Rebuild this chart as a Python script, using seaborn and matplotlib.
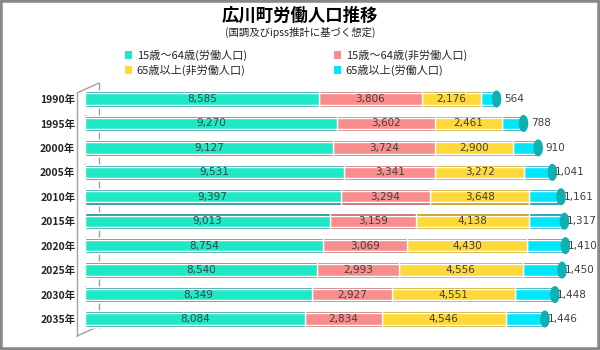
"""
広川町労働人口推移 - stacked horizontal bar chart.
"""

import matplotlib

matplotlib.use("Agg")
import matplotlib.pyplot as plt
import pandas as pd
import seaborn as sns
from matplotlib.lines import Line2D
from matplotlib.patches import Ellipse, Patch, Rectangle

years = ["1990年", "1995年", "2000年", "2005年", "2010年",
         "2015年", "2020年", "2025年", "2030年", "2035年"]
work_15_64 = [8585, 9270, 9127, 9531, 9397, 9013, 8754, 8540, 8349, 8084]
nonwork_15_64 = [3806, 3602, 3724, 3341, 3294, 3159, 3069, 2993, 2927, 2834]
nonwork_65 = [2176, 2461, 2900, 3272, 3648, 4138, 4430, 4556, 4551, 4546]
work_65 = [564, 788, 910, 1041, 1161, 1317, 1410, 1450, 1448, 1446]

labels = ["15歳～64歳(労働人口)", "15歳～64歳(非労働人口)",
          "65歳以上(非労働人口)", "65歳以上(労働人口)"]
main_colors = ["#1ee9c4", "#f98c8c", "#ffd83a", "#00e6fb"]
edge_colors = ["#128a98", "#c06060", "#c49a00", "#0096b4"]

W, H = 600, 350


def fx(px):
    return px / W


def fy(py):
    return 1 - py / H


sns.set_theme(style="white")
plt.rcParams["font.family"] = ["Noto Sans CJK JP", "DejaVu Sans"]

df = pd.DataFrame({
    "year": years,
    "s1": work_15_64,
    "s2": nonwork_15_64,
    "s3": nonwork_65,
    "s4": work_65,
})
cols = ["s1", "s2", "s3", "s4"]
cum = df[cols].cumsum(axis=1)

fig = plt.figure(figsize=(6, 3.5), dpi=100)
ax = fig.add_axes([fx(85), fy(331.2), fx(590) - fx(85), fy(86.8) - fy(331.2)])

scale = 0.0272  # px per person
ax.set_xlim(0, (590 - 85) / scale)

# left rounded ends
for i in range(len(years)):
    ax.add_patch(Ellipse((0, i), 260, 0.62, color=edge_colors[0], zorder=0.5))
    ax.add_patch(Ellipse((0, i), 220, 0.46, color=main_colors[0], zorder=0.6))

# stacked bars: draw cumulative totals from the top layer down
for k in range(3, -1, -1):
    sns.barplot(x=cum[cols[k]], y=df["year"], order=years, orient="h",
                color=edge_colors[k], width=0.64, saturation=1, ax=ax)
    sns.barplot(x=cum[cols[k]], y=df["year"], order=years, orient="h",
                color=main_colors[k], width=0.46, saturation=1, ax=ax)

# right caps
for i, tot in enumerate(cum["s4"]):
    ax.add_patch(Ellipse((tot, i), 300, 0.64, color="#10b0b0", zorder=5))

# value labels
for i in range(len(years)):
    start = 0
    for k in range(3):
        v = df[cols[k]][i]
        ax.text(start + v / 2, i, f"{v:,}", ha="center", va="center",
                fontsize=7.5, color="#404040", family="DejaVu Sans", zorder=6)
        start += v
    ax.annotate(f"{df['s4'][i]:,}", (cum["s4"][i], i), xytext=(12.5, 0),
                textcoords="offset points", ha="center", va="center",
                fontsize=7.5, color="#404040", family="DejaVu Sans", zorder=6)

ax.set_ylim(len(years) - 0.5, -0.5)
ax.set_xlabel("")
ax.set_ylabel("")
ax.set_xticks([])
ax.tick_params(axis="y", length=0, pad=7, labelsize=7.5)
for lab in ax.get_yticklabels():
    lab.set_fontweight("bold")
sns.despine(ax=ax, left=True, bottom=True)
ax.patch.set_alpha(0)

# perspective wall lines
wall = "#a0a0a0"
for (x0, y0), (x1, y1) in [((77, 93), (99, 83)), ((77, 93), (77, 336)),
                           ((77, 336), (97, 327)), ((99, 83), (99, 328))]:
    fig.add_artist(Line2D([fx(x0), fx(x1)], [fy(y0), fy(y1)], color=wall,
                          lw=1, zorder=0))

# titles
fig.text(0.5, fy(16), "広川町労働人口推移", ha="center", va="center",
         fontsize=12.5, fontweight="bold", color="#000000")
fig.text(0.5, fy(32), "(国調及びipss推計に基づく想定)", ha="center", va="center",
         fontsize=7.5, color="#202020")

# legend
handles = [Patch(facecolor=c, edgecolor="none") for c in main_colors]
order = [0, 2, 1, 3]
fig.legend([handles[j] for j in order], [labels[j] for j in order],
           ncol=2, loc="upper left", bbox_to_anchor=(fx(119), fy(44)),
           frameon=False, fontsize=8, handlelength=0.7, handleheight=0.7,
           handletextpad=0.4, columnspacing=7.8, labelspacing=0.3,
           borderpad=0)

# outer frame
fig.add_artist(Rectangle((0, 0), 1, 1, transform=fig.transFigure, fill=False,
                         edgecolor="#888888", lw=4, zorder=10))

fig.savefig("out.png", dpi=100)
